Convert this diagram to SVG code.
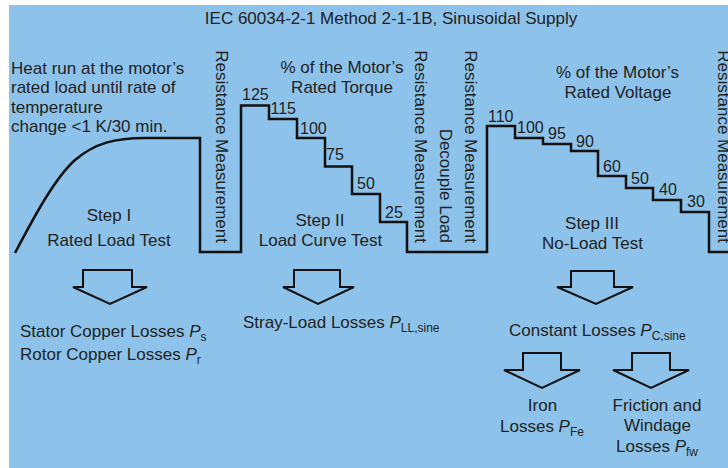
<svg xmlns="http://www.w3.org/2000/svg" width="728" height="468" viewBox="0 0 728 468">
<style>
text{font-family:"Liberation Sans",Arial,sans-serif;font-size:17px;fill:#222}
.num{font-size:16px}
.c{text-anchor:middle}
.v{text-anchor:end}
.wave{fill:none;stroke:#111;stroke-width:2.5;stroke-linejoin:miter}
.arr{fill:none;stroke:#111;stroke-width:2;stroke-linejoin:miter}
.sub{font-size:12px}
.it{font-style:italic}
</style>
<rect x="0" y="0" width="728" height="468" fill="#ffffff"/>
<rect x="9" y="5" width="719" height="463" fill="#8DC2EA"/>
<text id="title" class="c" x="391" y="24">IEC 60034-2-1 Method 2-1-1B, Sinusoidal Supply</text>

<g id="connectors">
<path class="wave" d="M15,253 C35,215 55,178 75,160 C95,143 115,138 145,138 L200,138 L200,252 L241,252 L241,105.5 L269,105.5 L269,119 L297,119 L297,138 L325,138 L325,166.5 L352,166.5 L352,194 L380,194 L380,222 L407,222 L407,252 L487,252 L487,126 L515,126 L515,138 L543,138 L543,144 L571,144 L571,151 L598,151 L598,176 L626,176 L626,188 L653,188 L653,200 L681,200 L681,212 L709,212 L709,252 L730,252"/>
<polygon class="arr" points="83,270 132,270 132,287 147,287 110,304 73,287 83,287"/>
<polygon class="arr" points="294,270 340,270 340,287 354,287 318,304 283,287 294,287"/>
<polygon class="arr" points="571,271 614,271 614,287 633,287 596,304 557,287 571,287"/>
<polygon class="arr" points="523,353 561,353 561,370 580,370 542,388 504,370 523,370"/>
<polygon class="arr" points="632,353 670,353 670,370 689,370 651,388 613,370 632,370"/>
</g>

<g id="heat-run">
<text x="11" y="73.5">Heat run at the motor’s</text>
<text x="11" y="93">rated load until rate of</text>
<text x="11" y="112.5">temperature</text>
<text x="11" y="132">change &lt;1 K/30 min.</text>
</g>
<g id="step1">
<text class="c" x="109" y="221">Step I</text>
<text class="c" x="109" y="246">Rated Load Test</text>
</g>
<g id="rm1"><text class="v" transform="translate(215.5,243) rotate(90)">Resistance Measurement</text></g>
<g id="torque-label">
<text class="c" x="342" y="73">% of the Motor’s</text>
<text class="c" x="342" y="93">Rated Torque</text>
</g>
<g id="torque-values">
<text class="num" x="242" y="100">125</text>
<text class="num" x="270.5" y="114">115</text>
<text class="num" x="300" y="134">100</text>
<text class="num" x="326" y="160">75</text>
<text class="num" x="357" y="189">50</text>
<text class="num" x="385" y="218">25</text>
</g>
<g id="step2">
<text class="c" x="320" y="226">Step II</text>
<text class="c" x="320.5" y="246">Load Curve Test</text>
</g>
<g id="rm2"><text class="v" transform="translate(415,243) rotate(90)">Resistance Measurement</text></g>
<g id="decouple"><text class="v" transform="translate(440,243) rotate(90)">Decouple Load</text></g>
<g id="rm3"><text class="v" transform="translate(465,243) rotate(90)">Resistance Measurement</text></g>
<g id="voltage-label">
<text class="c" x="617.5" y="77.5">% of the Motor’s</text>
<text class="c" x="618" y="97.5">Rated Voltage</text>
</g>
<g id="voltage-values">
<text class="num" x="488" y="121.5">110</text>
<text class="num" x="517" y="133">100</text>
<text class="num" x="548" y="139">95</text>
<text class="num" x="576" y="147">90</text>
<text class="num" x="603" y="172">60</text>
<text class="num" x="631" y="184">50</text>
<text class="num" x="659" y="195">40</text>
<text class="num" x="687" y="206.5">30</text>
</g>
<g id="step3">
<text class="c" x="592" y="229">Step III</text>
<text class="c" x="592.5" y="249">No-Load Test</text>
</g>
<g id="rm4"><text class="v" transform="translate(718,243) rotate(90)">Resistance Measurement</text></g>

<g id="copper-losses">
<text x="20" y="337">Stator Copper Losses <tspan class="it">P</tspan><tspan class="sub" dy="4">s</tspan></text>
<text x="20" y="360">Rotor Copper Losses <tspan class="it">P</tspan><tspan class="sub" dy="4">r</tspan></text>
</g>
<g id="stray-losses">
<text x="243" y="328">Stray-Load Losses <tspan class="it">P</tspan><tspan class="sub" dy="4">LL,sine</tspan></text>
</g>
<g id="constant-losses">
<text x="509" y="336">Constant Losses <tspan class="it">P</tspan><tspan class="sub" dy="4">C,sine</tspan></text>
</g>
<g id="iron-losses">
<text class="c" x="542.5" y="411">Iron</text>
<text class="c" x="542" y="431.5">Losses <tspan class="it">P</tspan><tspan class="sub" dy="4">Fe</tspan></text>
</g>
<g id="friction-losses">
<text class="c" x="657" y="411">Friction and</text>
<text class="c" x="657.5" y="431">Windage</text>
<text class="c" x="657" y="451.5">Losses <tspan class="it">P</tspan><tspan class="sub" dy="4">fw</tspan></text>
</g>
</svg>
